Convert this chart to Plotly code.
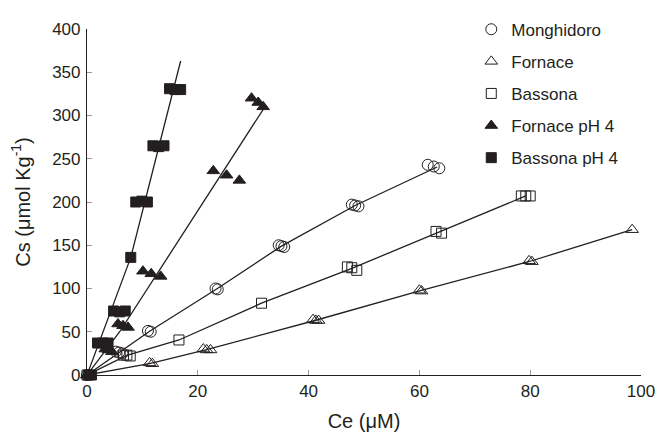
import plotly.graph_objects as go

INK = "#231f20"
FONT = "Liberation Sans, Arial, Helvetica, sans-serif"

# ---- data (Ce in µM, Cs in µmol/kg) ----
mong_ce = [0, 5.2, 5.8, 6.4, 11.0, 11.5, 23.2, 23.6, 34.6, 35.1, 35.6, 47.8, 48.4, 49.0, 61.5, 62.6, 63.6]
mong_cs = [0, 27, 26, 25, 51, 50, 100, 99, 150, 149, 148, 197, 196, 195, 243, 241, 239]
mong_fit_ce = [0, 5.8, 11.3, 23.4, 35.1, 48.4, 63.2]
mong_fit_cs = [0, 26, 50.5, 99.5, 149, 196, 240.5]

forn_ce = [0, 11.3, 11.8, 21.0, 21.6, 22.3, 40.8, 41.3, 41.8, 60.0, 60.4, 79.8, 80.3, 98.4]
forn_cs = [0, 14, 13, 30, 29, 29, 64, 63, 63, 98, 97, 132, 131, 168]
forn_fit_ce = [0, 11.5, 21.6, 41.3, 60.2, 80.0, 98.4]
forn_fit_cs = [0, 13.5, 29.3, 63.3, 97.5, 131.5, 168]

bass_ce = [0, 6.6, 7.2, 7.8, 16.6, 31.5, 47.0, 47.8, 48.7, 63.0, 64.0, 78.4, 79.2, 80.0]
bass_cs = [0, 23, 23, 22, 40.5, 83, 125, 124, 121, 166, 164, 207, 207, 207]
bass_fit_ce = [0, 7.2, 16.6, 31.5, 47.8, 63.5, 79.2]
bass_fit_cs = [0, 22.7, 40.5, 83, 123.3, 165, 207]

fph4_ce = [0, 3.3, 3.9, 4.5, 5.6, 6.5, 7.4, 10.1, 11.6, 13.3, 22.8, 25.2, 27.5, 29.7, 30.9, 31.8]
fph4_cs = [0, 30, 29, 27, 59, 57, 55, 120, 117, 114, 236, 231, 225, 320, 315, 310]
fph4_fit_ce = [0, 5.9, 31.9]
fph4_fit_cs = [0, 50, 308]

bph4_ce = [0.3, 0.8, 1.9, 2.9, 3.8, 4.8, 5.9, 6.9, 7.9, 8.8, 9.9, 10.9, 11.9, 12.9, 13.9, 14.9, 15.9, 16.9]
bph4_cs = [0, 0, 37, 37, 37, 74, 73, 74, 136, 200, 201, 200, 265, 264, 265, 331, 330, 330]
bph4_fit_ce = [0, 7.9, 16.9]
bph4_fit_cs = [0, 136, 363]

x_ticks = [0, 20, 40, 60, 80, 100]
y_ticks = [0, 50, 100, 150, 200, 250, 300, 350, 400]

series = [
    ("Monghidoro", mong_ce, mong_cs, mong_fit_ce, mong_fit_cs, "circle-open", 11),
    ("Fornace", forn_ce, forn_cs, forn_fit_ce, forn_fit_cs, "triangle-up-open", 11),
    ("Bassona", bass_ce, bass_cs, bass_fit_ce, bass_fit_cs, "square-open", 10),
    ("Fornace pH 4", fph4_ce, fph4_cs, fph4_fit_ce, fph4_fit_cs, "triangle-up", 11),
    ("Bassona pH 4", bph4_ce, bph4_cs, bph4_fit_ce, bph4_fit_cs, "square", 10),
]

fig = go.Figure()
for name, xs, ys, fx, fy, sym, sz in series:
    fig.add_trace(go.Scatter(x=fx, y=fy, mode="lines", line=dict(color=INK, width=1.3),
                             showlegend=False, hoverinfo="skip", cliponaxis=False))
for name, xs, ys, fx, fy, sym, sz in series:
    fig.add_trace(go.Scatter(x=xs, y=ys, mode="markers", name=name, legendgroup=name,
                             marker=dict(symbol=sym, size=sz, color=INK,
                                         line=dict(color=INK, width=1)),
                             cliponaxis=False))

fig.update_layout(
    width=659, height=432,
    margin=dict(l=87, r=18, t=17, b=57),
    paper_bgcolor="white", plot_bgcolor="white",
    font=dict(family=FONT, size=17, color=INK),
    showlegend=True,
    legend=dict(x=0.968, y=1.05, xanchor="right", yanchor="top",
                bgcolor="rgba(0,0,0,0)", tracegroupgap=7,
                font=dict(size=17, color=INK), itemwidth=30),
    xaxis=dict(range=[0, 100], tickvals=x_ticks, ticks="inside", ticklen=5,
               tickcolor="#999999", showline=True, linecolor=INK, linewidth=1.2,
               showgrid=False, zeroline=False, automargin=False,
               title=dict(text="Ce (μM)", font=dict(size=20), standoff=14)),
    yaxis=dict(range=[0, 400], tickvals=y_ticks, ticks="inside", ticklen=5,
               tickcolor="#999999", showline=True, linecolor=INK, linewidth=1.2,
               showgrid=False, zeroline=False, automargin=False, ticklabelstandoff=2,
               title=dict(text="Cs (μmol Kg<sup>-1</sup>)", font=dict(size=20), standoff=16)),
)

fig.write_html("out.html", config={"displayModeBar": False},
               post_script="document.body.style.margin='0';document.body.style.overflow='hidden';")
